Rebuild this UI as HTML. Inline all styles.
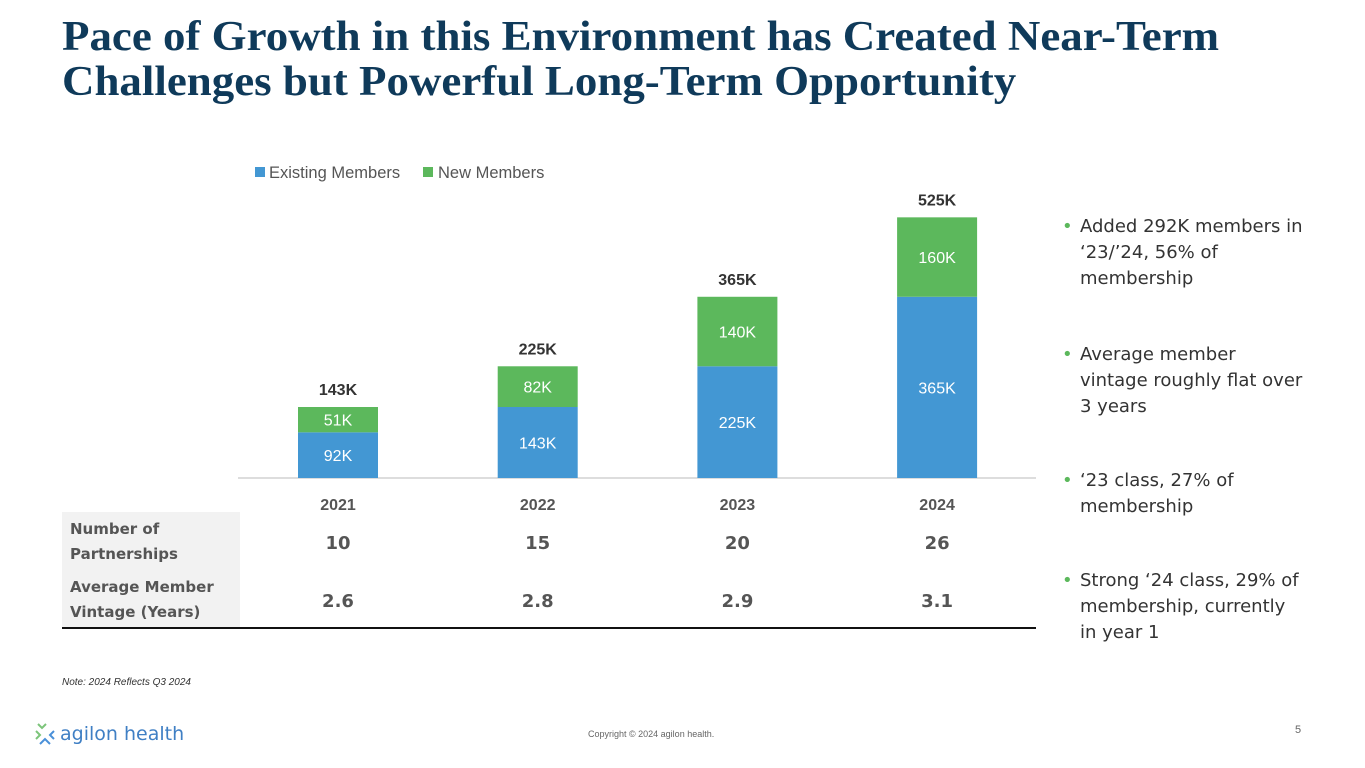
<!DOCTYPE html>
<html><head><meta charset="utf-8"><style>
body{margin:0;width:1365px;height:768px;background:#fff;position:relative;overflow:hidden;font-family:"Liberation Sans",sans-serif}
.abs{position:absolute}
h1{position:absolute;left:62px;top:14px;margin:0;font-family:"Liberation Serif",serif;font-weight:bold;font-size:42.5px;line-height:45px;color:#0f3a5a;white-space:nowrap;transform:scaleX(1.057);transform-origin:0 0}
.bul{position:absolute;left:1062px;width:280px;white-space:nowrap;font-family:"DejaVu Sans",sans-serif;font-size:18px;line-height:26px;color:#333}
.bul span.d{position:absolute;left:0;color:#5cb85c}
.bul div{margin-left:18px}
.tl{color:#555;font-weight:bold}
</style></head><body>
<h1>Pace of Growth in this Environment has Created Near-Term<br>Challenges but Powerful Long-Term Opportunity</h1>
<svg class="abs" style="left:0;top:0" width="1365" height="768" id="chart"></svg>
<div class="abs" style="left:62px;top:512px;width:178px;height:116px;background:#f2f2f2"></div>
<div class="abs tl" style="left:70px;top:517px;line-height:25px;font-family:'DejaVu Sans',sans-serif;font-size:15px">Number of<br>Partnerships</div>
<div class="abs tl" style="left:70px;top:575px;line-height:25px;font-family:'DejaVu Sans',sans-serif;font-size:15px">Average Member<br>Vintage (Years)</div>
<div class="abs" style="left:62px;top:627px;width:974px;height:2px;background:#111"></div>
<div class="bul" style="top:214px"><span class="d">•</span><div>Added 292K members in<br>‘23/’24, 56% of<br>membership</div></div>
<div class="bul" style="top:342px"><span class="d">•</span><div>Average member<br>vintage roughly flat over<br>3 years</div></div>
<div class="bul" style="top:468px"><span class="d">•</span><div>‘23 class, 27% of<br>membership</div></div>
<div class="bul" style="top:568px"><span class="d">•</span><div>Strong ‘24 class, 29% of<br>membership, currently<br>in year 1</div></div>
<div class="abs" style="left:62px;top:677px;font-size:10px;font-style:italic;color:#333">Note: 2024 Reflects Q3 2024</div>
<div class="abs" style="left:588px;top:729px;font-size:9px;color:#666">Copyright © 2024 agilon health.</div>
<div class="abs" style="left:1295px;top:724px;font-size:11px;color:#666">5</div>
<div class="abs" style="left:34px;top:721px;display:flex;align-items:center">
<svg width="22" height="26" viewBox="0 0 22 26"><g fill="none" stroke-width="2"><path d="M4 3 l4 4 l4-4" stroke="#7cc47a"/><path d="M2 10 l4 4 l-4 4" stroke="#7cc47a"/><path d="M20 10 l-4 4 l4 4" stroke="#4a90d9"/><path d="M6 23 l5-5 l5 5" stroke="#4a90d9"/></g></svg>
<span style="font-size:19px;color:#3f7fc4;margin-left:4px;font-family:'DejaVu Sans',sans-serif">agilon health</span></div>
<script>
const years=["2021","2022","2023","2024"];
const existing=[92,143,225,365];
const newer=[51,82,140,160];
const totals=["143K","225K","365K","525K"];
const partnerships=["10","15","20","26"];
const vintage=["2.6","2.8","2.9","3.1"];
const svg=document.getElementById('chart');
const NS='http://www.w3.org/2000/svg';
const base=478,k=0.4965,x0=338,step=199.7,bw=80;
const xs=i=>x0+i*step, ys=v=>base-v*k;
function el(t,a,txt){const e=document.createElementNS(NS,t);for(const n in a)e.setAttribute(n,a[n]);if(txt!=null)e.textContent=txt;svg.appendChild(e);return e;}
const ax=el('line',{x1:238,x2:1036,y1:base,y2:base,stroke:'#bbb','stroke-width':1});


years.forEach((y,i)=>{
 const cx=xs(i),e=existing[i],n=newer[i];
 const b1=el('rect',{x:cx-bw/2,y:ys(e),width:bw,height:e*k,fill:'#4397d3'});
 
 
 const b2=el('rect',{x:cx-bw/2,y:ys(e+n),width:bw,height:n*k,fill:'#5cb85c'});
 
 
 const l1=el('text',{x:cx,y:(ys(e)+base)/2+6,'text-anchor':'middle','font-size':16,fill:'#fff'},e+'K');
 
 
 const l2=el('text',{x:cx,y:(ys(e)+ys(e+n))/2+6,'text-anchor':'middle','font-size':16,fill:'#fff'},n+'K');
 
 
 const t=el('text',{x:cx,y:ys(e+n)-12,'text-anchor':'middle','font-size':16,'font-weight':'bold',fill:'#333'},totals[i]);
 
 
 const c=el('text',{x:cx,y:510,'text-anchor':'middle','font-size':16,'font-weight':'bold',fill:'#555'},y);
 
 
 const p=el('text',{x:cx,y:549,'text-anchor':'middle','font-size':18,'font-weight':'bold',fill:'#555','font-family':'DejaVu Sans,sans-serif'},partnerships[i]);
 
 
 const v=el('text',{x:cx,y:607,'text-anchor':'middle','font-size':18,'font-weight':'bold',fill:'#555','font-family':'DejaVu Sans,sans-serif'},vintage[i]);
 
 
});
const lg1=el('rect',{x:255,y:167,width:10,height:10,fill:'#4397d3'});


const lt1=el('text',{x:269,y:178,'font-size':16.5,fill:'#555'},'Existing Members');


const lg2=el('rect',{x:423,y:167,width:10,height:10,fill:'#5cb85c'});


const lt2=el('text',{x:438,y:178,'font-size':16.5,fill:'#555'},'New Members');


</script>
</body></html>
